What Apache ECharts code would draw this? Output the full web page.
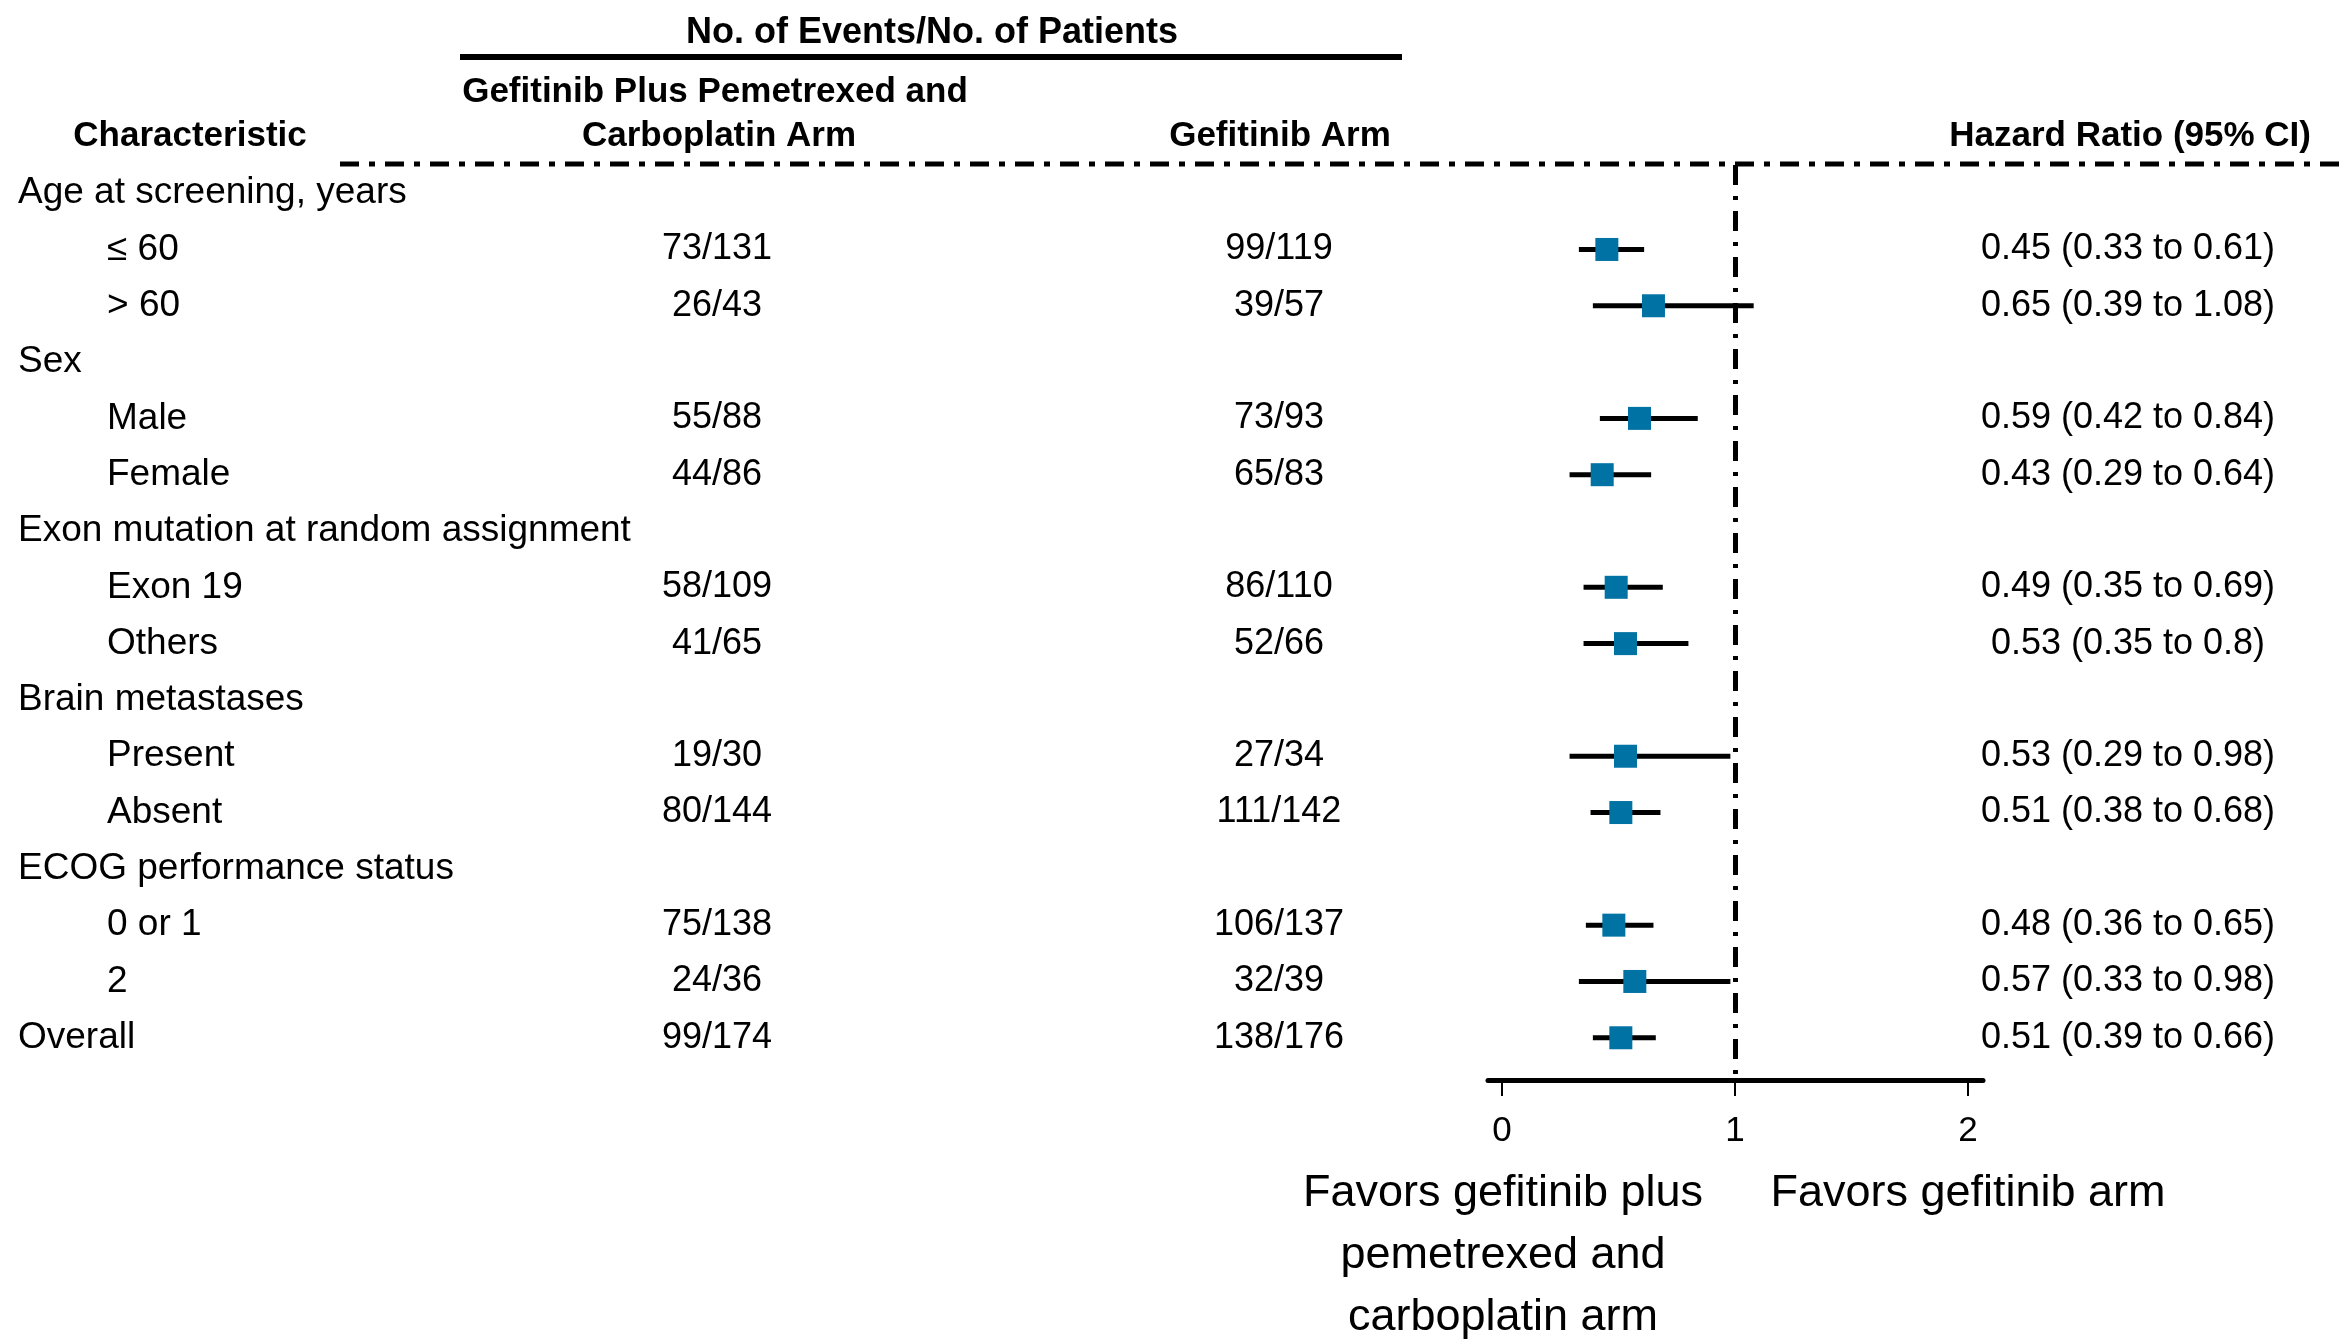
<!DOCTYPE html>
<html><head><meta charset="utf-8">
<script src="https://cdn.jsdelivr.net/npm/echarts@6/dist/echarts.min.js"></script>
<style>html,body{margin:0;padding:0;background:#fff}#c{width:2341px;height:1339px}</style>
</head><body><div id="c"></div>
<script>
// ---- data ----
const rowLabels = ["Age at screening, years", "\u2264 60", "> 60", "Sex", "Male", "Female",
  "Exon mutation at random assignment", "Exon 19", "Others", "Brain metastases", "Present", "Absent",
  "ECOG performance status", "0 or 1", "2", "Overall"];
const rowIsGroup = [1, 0, 0, 1, 0, 0, 1, 0, 0, 1, 0, 0, 1, 0, 0, 1];
const comboArm = ["", "73/131", "26/43", "", "55/88", "44/86", "", "58/109", "41/65", "", "19/30", "80/144", "", "75/138", "24/36", "99/174"];
const gefitinibArm = ["", "99/119", "39/57", "", "73/93", "65/83", "", "86/110", "52/66", "", "27/34", "111/142", "", "106/137", "32/39", "138/176"];
const hr = [null, 0.45, 0.65, null, 0.59, 0.43, null, 0.49, 0.53, null, 0.53, 0.51, null, 0.48, 0.57, 0.51];
const ciLow = [null, 0.33, 0.39, null, 0.42, 0.29, null, 0.35, 0.35, null, 0.29, 0.38, null, 0.36, 0.33, 0.39];
const ciHigh = [null, 0.61, 1.08, null, 0.84, 0.64, null, 0.69, 0.8, null, 0.98, 0.68, null, 0.65, 0.98, 0.66];
const xTicks = [0, 1, 2];
const refValue = 1;
const headerTop = "No. of Events/No. of Patients";
const headerCombo = ["Gefitinib Plus Pemetrexed and", "Carboplatin Arm"];
const headerChar = "Characteristic";
const headerGef = "Gefitinib Arm";
const headerHR = "Hazard Ratio (95% CI)";
const favorsLeft = ["Favors gefitinib plus", "pemetrexed and", "carboplatin arm"];
const favorsRight = "Favors gefitinib arm";

// ---- layout / style ----
const FONT = "'Liberation Sans', Arial, sans-serif";
const BLUE = "#0072A3";
const COL = { group: 18, item: 107, combo: 717, gef: 1279, hr: 2128 };
const hrText = hr.map((v, i) => v == null ? "" : `${v} (${ciLow[i]} to ${ciHigh[i]})`);

const chart = echarts.init(document.getElementById('c'), null, { renderer: 'canvas' });

function txt(text, x, y, size, weight, align, valign) {
  return {
    type: 'text', x: 0, y: 0, silent: true,
    style: {
      text: text, x: x, y: y, fill: '#000',
      font: `${weight || 'normal'} ${size}px ${FONT}`,
      textAlign: align || 'left', textVerticalAlign: valign || 'middle',
      align: align || 'left', verticalAlign: valign || 'middle'
    }
  };
}

const rowIdx = rowLabels.map((_, i) => i);

const option = {
  animation: false,
  backgroundColor: '#fff',
  textStyle: { fontFamily: FONT },
  grid: { left: 1488, right: 358, top: 165, bottom: 259, containLabel: false },
  xAxis: {
    type: 'value', min: -0.06, max: 2.064, position: 'bottom',
    axisLine: { show: true, onZero: false, lineStyle: { color: '#000', width: 5 } },
    axisTick: { show: true, customValues: xTicks, length: 16, lineStyle: { color: '#000', width: 2 } },
    axisLabel: { show: true, customValues: xTicks, fontSize: 35, color: '#000', margin: 34, fontFamily: FONT },
    splitLine: { show: false }
  },
  yAxis: { type: 'value', min: -0.5, max: 15.75, inverse: true, show: false },
  graphic: [
    txt(headerTop, 932, 33, 36, 'bold', 'center'),
    { type: 'line', silent: true, shape: { x1: 460, y1: 57, x2: 1402, y2: 57 }, style: { stroke: '#000', lineWidth: 6 } },
    txt(headerCombo[0], 715, 92, 35, 'bold', 'center'),
    txt(headerCombo[1], 719, 136, 35, 'bold', 'center'),
    txt(headerChar, 190, 136, 35, 'bold', 'center'),
    txt(headerGef, 1280, 136, 35, 'bold', 'center'),
    txt(headerHR, 2311, 136, 35, 'bold', 'right'),
    { type: 'line', silent: true, shape: { x1: 340, y1: 164, x2: 2341, y2: 164 }, style: { stroke: '#000', lineWidth: 5, lineDash: [19, 10, 6, 10] } },
    txt(favorsLeft[0], 1503, 1194, 45, 'normal', 'center'),
    txt(favorsLeft[1], 1503, 1256, 45, 'normal', 'center'),
    txt(favorsLeft[2], 1503, 1318, 45, 'normal', 'center'),
    txt(favorsRight, 1968, 1194, 45, 'normal', 'center')
  ],
  series: [
    {
      name: 'table', type: 'custom', silent: true, clip: false, z: 1,
      data: rowIdx.map(i => [0, i]),
      renderItem: function (params, api) {
        const i = api.value(1);
        const y = api.coord([0, i])[1];
        const children = [];
        children.push(txt(rowLabels[i], rowIsGroup[i] ? COL.group : COL.item, y, 37, 'normal', 'left'));
        if (comboArm[i]) children.push(txt(comboArm[i], COL.combo, y, 36, 'normal', 'center'));
        if (gefitinibArm[i]) children.push(txt(gefitinibArm[i], COL.gef, y, 36, 'normal', 'center'));
        if (hrText[i]) children.push(txt(hrText[i], COL.hr, y, 36, 'normal', 'center'));
        return { type: 'group', children: children };
      }
    },
    {
      name: 'ci', type: 'custom', silent: true, clip: false, z: 2,
      data: rowIdx.filter(i => hr[i] != null).map(i => [ciLow[i], ciHigh[i], i]),
      renderItem: function (params, api) {
        const p1 = api.coord([api.value(0), api.value(2)]);
        const p2 = api.coord([api.value(1), api.value(2)]);
        return { type: 'line', shape: { x1: p1[0], y1: p1[1], x2: p2[0], y2: p2[1] }, style: { stroke: '#000', lineWidth: 5 } };
      }
    },
    {
      name: 'hr', type: 'scatter', silent: true, z: 4,
      symbol: 'rect', symbolSize: 23,
      itemStyle: { color: BLUE, opacity: 1 },
      data: rowIdx.filter(i => hr[i] != null).map(i => [hr[i], i]),
      markLine: {
        silent: true, symbol: ['none', 'none'], label: { show: false }, z: 3,
        lineStyle: { color: '#000', width: 5, type: [20, 11, 4, 11], opacity: 1 },
        emphasis: { disabled: true },
        data: [{ xAxis: refValue }]
      }
    }
  ]
};
chart.setOption(option);
</script>
</body></html>
